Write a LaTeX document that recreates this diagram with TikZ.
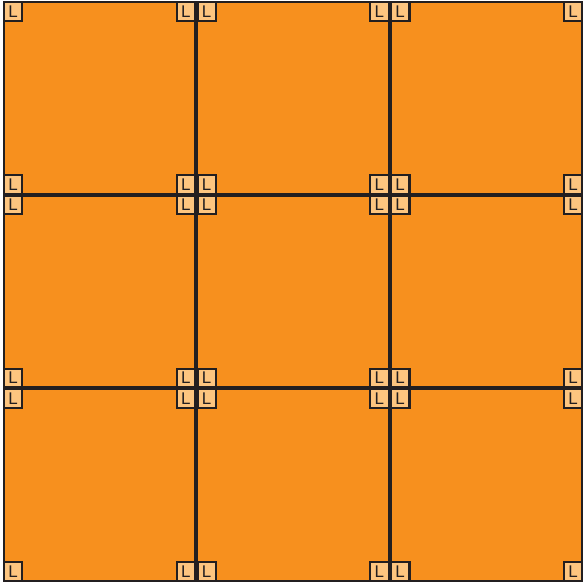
\documentclass[tikz,border=0pt]{standalone}
\usepackage{fontspec}
\setmainfont{Liberation Sans}
\usetikzlibrary{positioning}
\definecolor{ink}{HTML}{231F20}
\definecolor{tile}{HTML}{F7901E}
\definecolor{tag}{HTML}{FDC57F}

\begin{document}
\begin{tikzpicture}[x=1bp,y=1bp,line width=2bp,
  tilebox/.style={draw=ink,fill=tile,minimum size=191.5bp,inner sep=0pt},
  lbox/.style={draw=ink,fill=tag,minimum size=18.5bp,inner sep=0pt,text=ink,
    line width=2.2bp,font=\fontsize{17}{17}\selectfont}]
  \useasboundingbox (0,0) rectangle (584,584);
  % the nine tiles
  \foreach \r in {0,1,2}
    \foreach \c in {0,1,2}
      \node[tilebox] (t\r\c) at (99.55+193.5*\c, 485.95-193.5*\r) {};
  % an L tag in every corner of every tile
  \foreach \r in {0,1,2}
    \foreach \c in {0,1,2}
      \foreach \k/\a in {nw/north west,ne/north east,sw/south west,se/south east}
        \node[lbox,anchor=\a] (l\r\c\k) at (t\r\c.\a) {L};
\end{tikzpicture}
\end{document}
